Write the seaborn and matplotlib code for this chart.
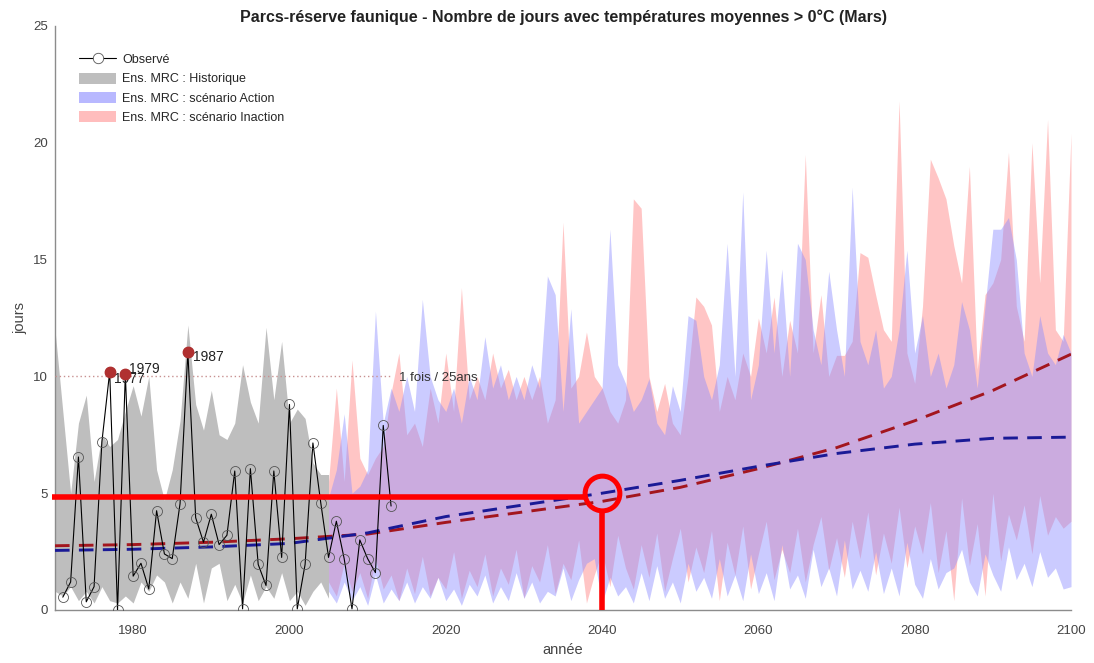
import numpy as np
import pandas as pd
import matplotlib
matplotlib.use("Agg")
import matplotlib.pyplot as plt
from matplotlib.lines import Line2D
from matplotlib.patches import Patch
import seaborn as sns

# ---------------- data ----------------
obs_years = list(range(1971, 2014))
obs_values = [0.55, 1.2, 6.55, 0.35, 1.0, 7.2, 10.2, 0.0, 10.1, 1.45,
              2.0, 0.9, 4.25, 2.4, 2.2, 4.55, 11.05, 3.95, 2.9, 4.1,
              2.8, 3.2, 5.95, 0.05, 6.05, 1.95, 1.05, 5.95, 2.25, 8.8,
              0.05, 1.95, 7.15, 4.6, 2.25, 3.8, 2.2, 0.05, 3.0, 2.2,
              1.6, 7.9, 4.45]

# highlighted extremes (>= 1 in 25 years threshold)
extreme_years = [1977, 1979, 1987]
extreme_values = [10.2, 10.1, 11.05]
threshold_value = 10.0

hist_years = list(range(1970, 2006))
hist_hi = [12.0, 8.5, 5.0, 8.0, 9.2, 5.5, 7.5, 7.0, 7.3, 8.5,
           9.6, 8.3, 10.0, 6.0, 4.7, 6.0, 8.1, 12.2, 8.8, 7.7,
           9.4, 7.5, 7.3, 8.0, 10.5, 8.9, 8.0, 12.1, 9.0, 11.5,
           8.0, 8.6, 8.2, 6.3, 5.8, 5.8]
hist_lo = [0.8, 0.6, 1.0, 0.4, 0.8, 0.3, 1.0, 0.4, 0.3, 0.6,
           0.3, 1.2, 0.8, 1.5, 1.2, 0.3, 1.2, 0.5, 2.0, 0.3,
           1.8, 2.0, 0.4, 1.1, 0.3, 1.5, 0.4, 1.0, 0.5, 1.6,
           0.4, 0.8, 0.2, 0.8, 1.2, 0.5]

proj_years = list(range(2005, 2101))
action_hi = [4.8, 6.0, 8.4, 5.0, 5.3, 6.0, 12.8, 8.0, 9.5, 8.5,
             10.0, 8.5, 13.3, 10.0, 9.0, 8.5, 9.5, 8.0, 10.0, 9.0,
             11.7, 9.5, 10.5, 9.0, 10.0, 9.0, 10.5, 9.5, 14.3, 13.5,
             8.5, 12.9, 8.0, 8.5, 9.0, 9.5, 16.3, 10.5, 9.7, 8.5,
             9.0, 9.9, 8.0, 7.5, 9.6, 8.5, 12.6, 12.4, 10.0, 9.0,
             10.5, 15.7, 10.0, 17.9, 9.0, 10.5, 15.4, 11.0, 14.6, 10.0,
             15.7, 15.0, 12.0, 10.5, 14.5, 12.0, 10.0, 18.1, 11.5, 10.5,
             12.0, 9.5, 10.0, 12.0, 15.4, 11.0, 12.6, 10.0, 11.0, 9.5,
             10.5, 13.2, 12.0, 9.5, 13.0, 16.3, 16.3, 16.8, 15.0, 11.0,
             10.0, 12.6, 11.0, 10.5, 11.8, 11.0]
action_lo = [0.8, 0.3, 1.2, 0.4, 1.0, 0.2, 1.5, 0.3, 0.9, 0.4,
             1.2, 0.3, 1.0, 0.5, 1.4, 0.4, 0.9, 0.2, 1.1, 0.6,
             1.5, 0.3, 1.0, 0.4, 1.6, 0.5, 1.2, 0.3, 0.8, 0.6,
             1.8, 0.4, 1.3, 2.0, 2.2, 0.3, 1.4, 0.6, 1.0, 0.3,
             1.6, 0.4, 1.9, 0.5, 1.2, 0.3, 2.0, 0.8, 1.4, 0.5,
             2.2, 0.6, 1.5, 0.4, 2.4, 0.7, 1.6, 0.4, 2.8, 0.9,
             1.5, 0.5, 2.6, 1.0, 1.8, 0.6, 3.0, 0.9, 1.7, 0.8,
             2.5, 0.7, 1.8, 0.6, 2.9, 1.1, 0.5, 2.2, 0.9, 1.6,
             1.8, 2.6, 1.2, 0.6, 2.4, 1.5, 0.8, 2.7, 1.3, 2.0,
             1.0, 2.5, 1.4, 1.8, 0.9, 1.0]
inaction_hi = [5.5, 9.5, 5.5, 10.7, 6.5, 5.8, 6.5, 7.0, 9.3, 11.0,
               7.5, 8.0, 7.0, 9.5, 8.0, 11.0, 8.5, 13.8, 9.0, 10.0,
               9.0, 11.0, 9.5, 10.3, 9.0, 10.0, 9.0, 10.0, 8.0, 9.0,
               16.6, 9.5, 10.0, 11.9, 10.0, 9.5, 8.5, 8.0, 9.0, 17.6,
               17.2, 10.0, 8.5, 9.7, 8.0, 7.5, 10.0, 13.4, 13.0, 12.2,
               8.5, 10.0, 9.0, 11.0, 10.0, 12.5, 11.0, 13.4, 10.0, 12.4,
               11.0, 19.5, 11.0, 13.5, 10.0, 10.9, 10.9, 11.5, 15.3, 15.1,
               13.5, 12.0, 11.5, 21.8, 11.0, 9.7, 13.0, 19.3, 18.5, 17.6,
               15.6, 14.0, 19.0, 10.3, 13.5, 14.0, 15.0, 19.6, 13.0, 11.5,
               20.0, 14.0, 21.0, 12.0, 11.5, 20.4]
inaction_lo = [1.2, 0.6, 2.0, 0.8, 1.6, 0.5, 2.2, 0.9, 1.5, 0.4,
               1.8, 0.7, 2.3, 0.6, 1.4, 0.9, 2.5, 0.5, 1.7, 1.0,
               2.4, 0.6, 1.8, 1.1, 2.6, 0.5, 1.9, 1.2, 2.8, 0.7,
               2.0, 1.3, 3.0, 0.3, 1.5, 2.5, 1.0, 3.2, 1.8, 0.9,
               2.8, 1.4, 3.3, 0.8, 2.2, 3.5, 1.2, 2.7, 1.6, 3.4,
               0.4, 2.9, 1.5, 3.6, 0.9, 2.4, 3.8, 1.3, 2.6, 1.6,
               3.5, 1.2, 2.8, 4.0, 1.7, 3.1, 1.4, 3.8, 2.2, 4.2,
               1.5, 3.3, 2.0, 4.4, 1.8, 3.6, 2.4, 4.6, 1.6, 3.4,
               0.4, 4.8, 1.9, 3.7, 0.6, 5.0, 2.1, 4.1, 3.0, 4.5,
               2.4, 4.9, 3.2, 4.0, 3.5, 3.8]

trend_years = [1970, 1980, 1990, 2000, 2010, 2020, 2030,
               2040, 2050, 2060, 2070, 2080, 2090, 2100]
trend_action = [2.55, 2.6, 2.7, 2.85, 3.3, 4.0, 4.5,
                5.0, 5.55, 6.15, 6.7, 7.1, 7.35, 7.4]
trend_inaction = [2.75, 2.8, 2.9, 3.05, 3.25, 3.75, 4.2,
                  4.65, 5.25, 6.05, 6.95, 8.1, 9.4, 10.95]

# highlighted reading on the Action trend
focus_year = 2040
focus_value = 5.0
focus_line_value = 4.85

# ---------------- style ----------------
sns.set_theme(style="white")
plt.rcParams["font.family"] = ["Liberation Sans", "DejaVu Sans"]

GRAY = "#bebebe"
BLUE = (0.55, 0.55, 1.0)
PINK = (1.0, 0.55, 0.55)
AXIS_GRAY = "#8c8c8c"

fig = plt.figure(figsize=(10.94, 6.63), dpi=100)
ax = fig.add_axes([55 / 1094, 1 - 610 / 663, 1016 / 1094, 584 / 663])

# ensemble envelopes
ax.fill_between(hist_years, hist_lo, hist_hi, color=GRAY, lw=0, zorder=1)
ax.fill_between(proj_years, inaction_lo, inaction_hi, color=PINK, alpha=0.5, lw=0, zorder=2)
ax.fill_between(proj_years, action_lo, action_hi, color=BLUE, alpha=0.45, lw=0, zorder=3)

# return-period threshold
ax.plot([1970, 2013], [threshold_value, threshold_value], ls=(0, (1, 2)),
        color="#c89090", lw=1.0, zorder=4)
ax.text(2014.0, threshold_value - 0.05, "1 fois / 25ans", fontsize=9.5,
        color="#333333", va="center", ha="left", zorder=8)

# trends
trend_df = pd.DataFrame({"année": trend_years * 2,
                         "jours": trend_inaction + trend_action,
                         "scénario": ["Inaction"] * len(trend_years) + ["Action"] * len(trend_years)})
sns.lineplot(data=trend_df, x="année", y="jours", hue="scénario",
             palette={"Inaction": "#a3161e", "Action": "#1a1a96"},
             lw=2.1, legend=False, ax=ax, zorder=5)
for ln in ax.get_lines()[-2:]:
    ln.set_dashes((5, 3.2))

# observations
obs_df = pd.DataFrame({"année": obs_years, "jours": obs_values})
sns.lineplot(data=obs_df, x="année", y="jours", color="black", lw=0.8,
             marker="o", markersize=7.2, markerfacecolor="none",
             markeredgecolor="#555555", markeredgewidth=0.6,
             legend=False, ax=ax, zorder=6)

# extreme years: marker + year label (1979 drawn over 1977)
label_offsets = {1977: (0.5, -0.3), 1979: (0.5, 0.2), 1987: (0.6, -0.2)}
for yr, val in zip(extreme_years, extreme_values):
    dx, dy = label_offsets[yr]
    ax.text(yr + dx, val + dy, str(yr), fontsize=10, color="#222222",
            va="center", ha="left", zorder=7)
    ax.plot([yr], [val], "o", ms=7.5, color="#b03030", mec="#b03030", zorder=7)

# highlighted reading at 2040
RED = "#ff0000"
ax.plot([1969.6, focus_year - 2.1], [focus_line_value, focus_line_value],
        color=RED, lw=4.0, solid_capstyle="butt", zorder=9, clip_on=False)
ax.plot([focus_year], [focus_value], "o", ms=25, mfc="none", mec=RED,
        mew=3.6, zorder=9)
ax.plot([focus_year, focus_year], [0, focus_value - 0.75],
        color=RED, lw=4.0, solid_capstyle="butt", zorder=9)

# axes
ax.set_xlim(1970, 2100)
ax.set_ylim(0, 25)
ax.set_xticks(range(1980, 2101, 20))
ax.set_yticks(range(0, 26, 5))
ax.tick_params(direction="in", length=5, width=0.8, color=AXIS_GRAY,
               labelsize=9.5, labelcolor="#444444")
ax.tick_params(axis="x", pad=11)
ax.tick_params(axis="y", pad=5)
for side in ("top", "right"):
    ax.spines[side].set_visible(False)
for side in ("left", "bottom"):
    ax.spines[side].set_color(AXIS_GRAY)
    ax.spines[side].set_linewidth(1.0)
ax.set_xlabel("année", fontsize=10.5, color="#444444", labelpad=4)
ax.set_ylabel("jours", fontsize=10.5, color="#444444", labelpad=4)
ax.set_title("Parcs-réserve faunique - Nombre de jours avec températures moyennes > 0°C (Mars)",
             fontsize=11.5, fontweight="bold", color="#222222", pad=3)

handles = [
    Line2D([0], [0], color="black", lw=0.8, marker="o", markersize=7.5,
           markerfacecolor="white", markeredgecolor="#555555", markeredgewidth=0.6),
    Patch(facecolor=GRAY, edgecolor="none"),
    Patch(facecolor=(0.72, 0.72, 1.0), edgecolor="none"),
    Patch(facecolor=(1.0, 0.74, 0.74), edgecolor="none"),
]
labels = ["Observé", "Ens. MRC : Historique", "Ens. MRC : scénario Action",
          "Ens. MRC : scénario Inaction"]
ax.legend(handles, labels, loc="upper left", bbox_to_anchor=(0.024, 0.953),
          frameon=False, fontsize=9, handlelength=2.9, handleheight=1.0,
          labelspacing=0.5, handletextpad=0.5, borderaxespad=0, borderpad=0)

fig.savefig("out.png", dpi=100)
